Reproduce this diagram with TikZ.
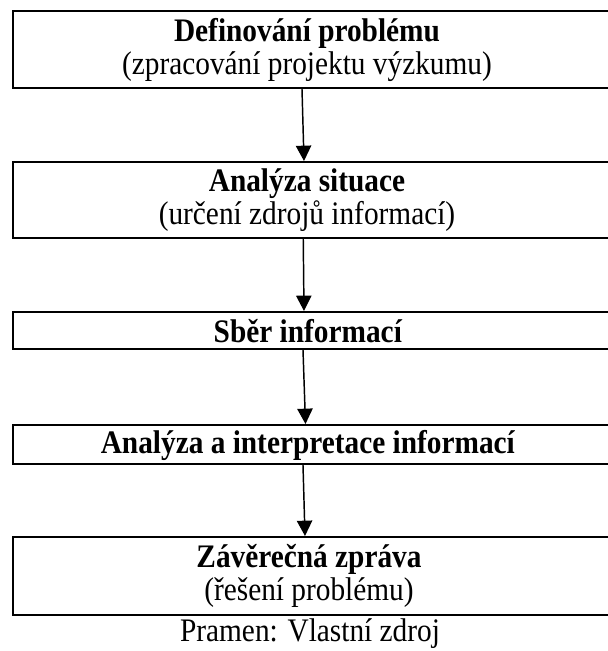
\documentclass[tikz,border=0pt]{standalone}
\usepackage{fontspec}
\setmainfont{Liberation Serif}
\usetikzlibrary{arrows.meta}
\def\pxu{0.75pt}
\tikzset{
  box/.style={draw, line width=1.5pt, inner sep=0pt, minimum width=599.5*\pxu},
  label/.style={align=center, inner sep=0pt, yscale=1.12, transform shape,
    font=\fontsize{22}{22.2}\selectfont},
  arr/.style={line width=1.1pt, -{Triangle[length=11.5pt, width=11.5pt]}},
}
\begin{document}
\begin{tikzpicture}[x=0.75pt, y=-0.75pt]
  \useasboundingbox (0,0) rectangle (608,651);
  \clip (0,0) rectangle (608,651);

  % process boxes
  \node[box, minimum height=77*\pxu] (b1) at (312.25,49.5) {};
  \node[box, minimum height=76*\pxu] (b2) at (312.25,200) {};
  \node[box, minimum height=37*\pxu] (b3) at (312.25,330.5) {};
  \node[box, minimum height=39*\pxu] (b4) at (312.25,444.5) {};
  \node[box, minimum height=78*\pxu] (b5) at (312.25,576) {};

  % box texts
  \node[label] (t1) at (307,50) {\textbf{Definování problému}\\(zpracování projektu výzkumu)};
  \node[label] (t2) at (307,200) {\textbf{Analýza situace}\\(určení zdrojů informací)};
  \node[label] (t3) at (308,331) {\textbf{Sběr informací}};
  \node[label] (t4) at (308,445) {\textbf{Analýza a interpretace informací}};
  \node[label] (t5) at (309,576) {\textbf{Závěrečná zpráva}\\(řešení problému)};

  % source line
  \node[label, anchor=base] (src) at (310,641) {Pramen: Vlastní zdroj};

  % flow arrows
  \draw[arr] ([xshift=-10.25*\pxu]b1.south) -- ([xshift=-8.25*\pxu]b2.north);
  \draw[arr] ([xshift=-9*\pxu]b2.south) -- ([xshift=-8.25*\pxu]b3.north);
  \draw[arr] ([xshift=-9.25*\pxu]b3.south) -- ([xshift=-6.75*\pxu]b4.north);
  \draw[arr] ([xshift=-9.25*\pxu]b4.south) -- ([xshift=-7.25*\pxu]b5.north);
\end{tikzpicture}
\end{document}
